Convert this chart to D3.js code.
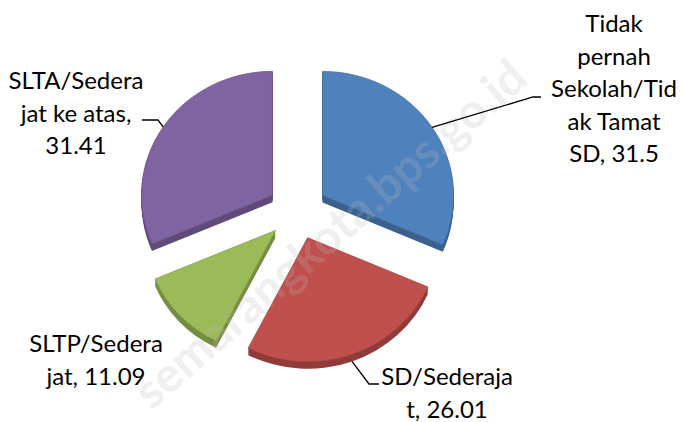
<!DOCTYPE html>
<html>
<head>
<meta charset="utf-8">
<script src="https://cdn.jsdelivr.net/npm/d3@7"></script>
<style>
  body { margin: 0; background: #fff; }
  text { font-family: Lato, "Open Sans", sans-serif; }
</style>
</head>
<body>
<div id="chart"></div>
<script>
// data, clockwise from 12 o'clock
let categories = ["Tidak pernah Sekolah/Tidak Tamat SD", "SD/Sederajat", "SLTP/Sederajat", "SLTA/Sederajat ke atas"];
let values = [31.5, 26.01, 11.09, 31.41];
let labelLines = [
	["Tidak", "pernah", "Sekolah/Tid", "ak Tamat", "SD, 31.5"],
	["SD/Sederaja", "t, 26.01"],
	["SLTP/Sedera", "jat, 11.09"],
	["SLTA/Sedera", "jat ke atas,", "31.41"]
];
let topColors = ["#4f81bd", "#c0504d", "#9bbb59", "#8064a2"];

let svgWidth = 684;
let svgHeight = 422;

// layout of the tilted pie
let cx = 297.5, cy = 211;
let rx = 131, ry = 124;
let k = ry / rx;
let explode = 30;
let depth = 7;

// label layout: x centre, first baseline, leader elbow (null = no leader)
let labelPos = [
	{x: 614, y: 32, elbow: [[533, 97], [541, 97]]},
	{x: 447, y: 385, elbow: [[369, 384], [379, 384]]},
	{x: 96, y: 352, elbow: null},
	{x: 76, y: 89, elbow: [[158, 120], [142, 120]]}
];
let lineH = 32.5;

let svg = d3.select("#chart")
	.append("svg")
	.attr("width", svgWidth)
	.attr("height", svgHeight);

let pie = d3.pie().sort(null).value(d => d);
let arcs = pie(values);

let arc = d3.arc().innerRadius(0).outerRadius(rx);

function apex(d) {
	let mid = (d.startAngle + d.endAngle) / 2;
	return [cx + explode * Math.sin(mid), cy - explode * k * Math.cos(mid)];
}

let slices = svg.append("g").attr("class", "slices");

// side walls: stacked darker copies
arcs.forEach(function(d, i) {
	let a = apex(d);
	let side = d3.color(topColors[i]).darker(0.8);
	for (let t = depth; t >= 1; t--) {
		slices.append("path")
			.attr("d", arc(d))
			.attr("transform", `translate(${a[0]}, ${a[1] + t}) scale(1, ${k})`)
			.attr("fill", side);
	}
});

// top faces
arcs.forEach(function(d, i) {
	let a = apex(d);
	slices.append("path")
		.attr("d", arc(d))
		.attr("transform", `translate(${a[0]}, ${a[1]}) scale(1, ${k})`)
		.attr("fill", topColors[i])
		.attr("stroke", d3.color(topColors[i]).darker(0.4))
		.attr("stroke-width", 0.8)
		.attr("vector-effect", "non-scaling-stroke");
});

// watermark
svg.append("text")
	.attr("transform", "translate(530, 82) rotate(-41)")
	.attr("text-anchor", "end")
	.attr("font-size", 48)
	.attr("font-weight", "bold")
	.attr("fill", "#b8b8b8")
	.attr("opacity", 0.22)
	.text("semarangkota.bps.go.id");

// leader lines
arcs.forEach(function(d, i) {
	let p = labelPos[i];
	if (!p.elbow) return;
	let a = apex(d);
	let mid = (d.startAngle + d.endAngle) / 2;
	let sx = a[0] + rx * Math.sin(mid);
	let sy = a[1] - ry * Math.cos(mid) + (Math.cos(mid) < 0 ? depth : 0);
	let pts = [[sx, sy]].concat(p.elbow);
	svg.append("path")
		.attr("d", d3.line()(pts))
		.attr("fill", "none")
		.attr("stroke", "#000")
		.attr("stroke-width", 1.3);
});

// labels
labelLines.forEach(function(lines, i) {
	let p = labelPos[i];
	let t = svg.append("text")
		.attr("text-anchor", "middle")
		.attr("font-size", 24)
		.attr("fill", "#000");
	lines.forEach(function(s, j) {
		t.append("tspan")
			.attr("x", p.x)
			.attr("y", p.y + j * lineH)
			.text(s);
	});
});
</script>
</body>
</html>
